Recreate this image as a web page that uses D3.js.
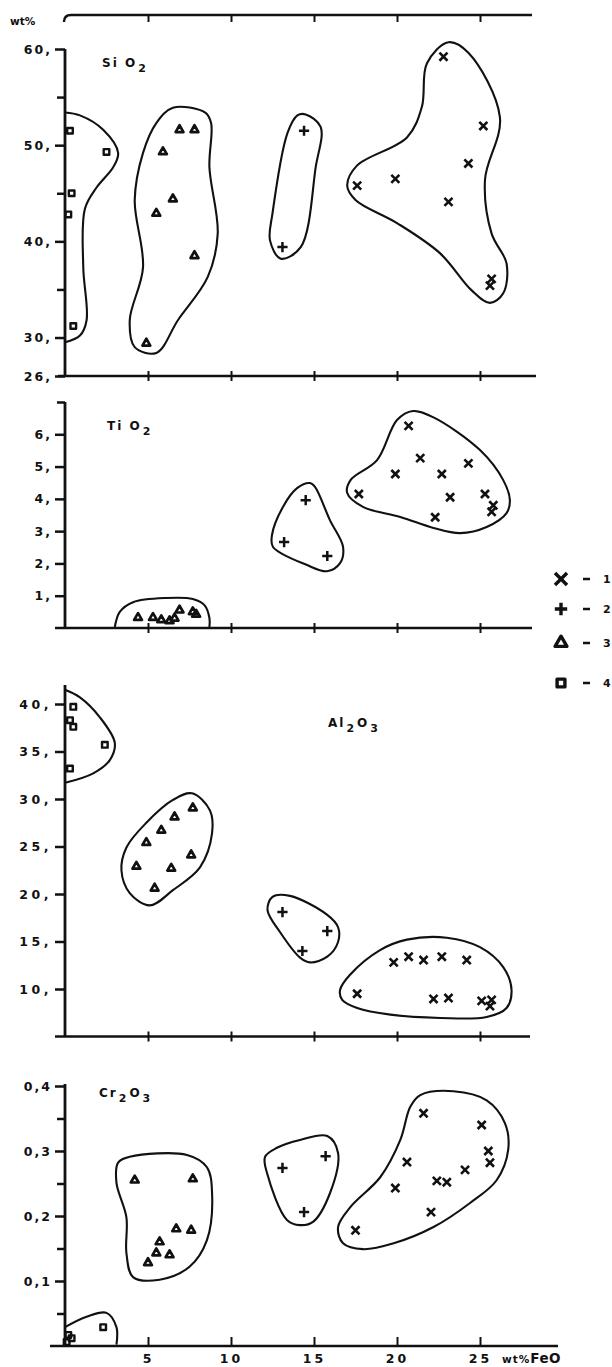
<!DOCTYPE html>
<html>
<head>
<meta charset="utf-8">
<script src="https://cdn.jsdelivr.net/npm/d3@7"></script>
<style>
  body { margin: 0; background: #fff; }
  svg { display: block; font-family: "DejaVu Sans", Arial, sans-serif; font-weight: bold; }
</style>
</head>
<body>
<script>
// points are [wt% FeO, wt% oxide]; group 1 = x, 2 = +, 3 = triangle, 4 = square
var sio2_1 = [[22.8,59.2],[25.2,52.0],[24.3,48.1],[19.9,46.5],[17.6,45.8],[23.1,44.1],[25.7,36.1],[25.6,35.4]];
var sio2_2 = [[14.4,51.5],[13.1,39.4]];
var sio2_3 = [[6.9,51.6],[7.8,51.6],[5.9,49.3],[6.5,44.4],[5.5,42.9],[7.8,38.5],[4.9,29.4]];
var sio2_4 = [[0.3,51.5],[2.5,49.3],[0.4,45.0],[0.2,42.8],[0.5,31.2]];

var tio2_1 = [[20.7,6.26],[21.4,5.26],[24.3,5.1],[19.9,4.77],[22.7,4.77],[17.7,4.15],[23.2,4.05],[25.3,4.15],[25.8,3.8],[25.7,3.6],[22.3,3.43]];
var tio2_2 = [[14.5,3.96],[13.2,2.66],[15.8,2.23]];
var tio2_3 = [[4.4,0.32],[5.3,0.32],[5.8,0.25],[6.3,0.22],[6.6,0.3],[6.9,0.55],[7.7,0.5],[7.9,0.42]];
var tio2_4 = [];

var al2o3_1 = [[19.8,12.8],[20.7,13.4],[21.6,13.05],[22.7,13.4],[24.2,13.05],[17.6,9.5],[22.2,8.95],[23.1,9.05],[25.1,8.75],[25.7,8.85],[25.6,8.2]];
var al2o3_2 = [[13.1,18.1],[15.8,16.1],[14.3,14.0]];
var al2o3_3 = [[7.7,29.05],[6.6,28.1],[5.8,26.7],[4.9,25.4],[7.6,24.1],[4.3,22.9],[6.4,22.7],[5.4,20.6]];
var al2o3_4 = [[0.5,39.7],[0.3,38.3],[0.5,37.6],[2.4,35.7],[0.3,33.2]];

var cr2o3_1 = [[21.6,0.358],[25.1,0.34],[25.5,0.30],[25.6,0.282],[20.6,0.283],[24.1,0.271],[22.4,0.254],[23.0,0.252],[19.9,0.243],[22.05,0.206],[17.5,0.178]];
var cr2o3_2 = [[13.1,0.274],[14.4,0.206],[15.7,0.292]];
var cr2o3_3 = [[4.2,0.255],[7.7,0.257],[6.7,0.18],[7.6,0.178],[5.7,0.16],[5.5,0.143],[6.3,0.14],[5.0,0.128]];
var cr2o3_4 = [[2.3,0.029],[0.2,0.017],[0.4,0.012],[0.1,0.006]];

// hand drawn field outlines, same units as the points
var sio2_field1 = [[23.1,60.7],[24.3,59.6],[26.2,52.9],[25.3,46.4],[25.7,40.8],[26.6,37.7],[26.4,34.6],[25.6,33.6],[24.5,34.9],[22.6,38.75],[20.0,41.9],[17.5,44.3],[17.0,45.8],[17.6,47.9],[20.6,50.8],[21.5,54.0],[21.8,58.5]];
var sio2_field2 = [[14.5,53.2],[15.4,51.9],[15.1,47.7],[14.2,39.4],[13.0,38.2],[12.35,40.1],[12.5,42.9],[13.4,51.25],[14.0,53.1]];
var sio2_field3 = [[6.5,53.9],[8.43,53.4],[8.8,52.3],[8.7,47.7],[9.2,40.8],[8.6,36.3],[6.8,31.8],[5.5,28.4],[4.2,29.0],[3.9,31.8],[4.7,37.3],[4.2,44.3],[4.7,49.2],[5.5,52.3]];
var sio2_field4 = [[0,53.4],[0.9,53.1],[2.3,51.6],[3.2,49.2],[2.9,47.7],[1.9,45.6],[1.2,43.4],[1.1,37.3],[1.3,31.8],[0.9,30.2],[0,29.5]];

var tio2_field1 = [[20.96,6.72],[22.17,6.53],[25.0,5.51],[26.4,4.58],[26.8,3.96],[26.6,3.56],[25.4,3.13],[23.8,2.94],[22.2,3.10],[20.2,3.44],[17.95,3.75],[17.0,4.18],[17.2,4.58],[18.8,5.2],[20.0,6.44]];
var tio2_field2 = [[14.76,4.49],[15.06,4.37],[15.96,3.34],[16.75,2.51],[16.57,2.01],[15.78,1.76],[14.58,1.95],[12.53,2.51],[12.47,2.88],[13.13,3.75],[13.98,4.33]];
var tio2_field3 = [[3.0,0.03],[3.3,0.5],[4.1,0.8],[6.1,0.93],[7.7,0.9],[8.4,0.71],[8.7,0.31],[8.7,0.03]];

var al2o3_field1 = [[16.57,9.9],[17.17,11.5],[18.98,14.1],[20.6,15.2],[23.0,15.4],[25.0,14.4],[26.4,12.3],[26.9,9.9],[26.6,8.0],[25.4,7.05],[22.6,6.95],[19.6,7.3],[17.6,8.0],[16.7,8.85]];
var al2o3_field2 = [[12.5,19.7],[13.55,19.8],[15.8,17.8],[16.45,16.5],[16.45,14.95],[15.8,13.4],[14.76,12.8],[14.16,13.3],[12.95,16.0],[12.2,18.3]];
var al2o3_field3 = [[7.65,30.6],[8.73,28.8],[8.86,26.4],[8.13,22.8],[6.5,20.4],[5.1,18.8],[3.9,20.1],[3.4,22.5],[3.7,24.9],[4.9,27.5],[6.5,29.9]];
var al2o3_field4 = [[0,41.5],[0.9,40.7],[2.1,38.6],[3.0,35.9],[2.7,34.1],[1.7,32.7],[0,31.7]];

var cr2o3_field1 = [[23.4,0.392],[25.4,0.378],[26.5,0.343],[26.7,0.302],[26.0,0.255],[24.4,0.22],[22.2,0.183],[19.8,0.158],[17.95,0.149],[16.75,0.158],[16.45,0.183],[17.2,0.214],[19.0,0.26],[20.2,0.317],[20.8,0.368],[21.4,0.386]];
var cr2o3_field2 = [[14.16,0.317],[15.8,0.323],[16.45,0.297],[15.96,0.235],[14.94,0.191],[14.16,0.186],[13.37,0.194],[12.17,0.266],[12.05,0.291],[12.77,0.305]];
var cr2o3_field3 = [[3.9,0.291],[7.35,0.294],[8.55,0.275],[8.86,0.235],[8.55,0.163],[7.5,0.122],[5.7,0.102],[4.1,0.106],[3.7,0.143],[3.7,0.198],[3.1,0.251],[3.2,0.282]];
var cr2o3_field4 = [[0,0.029],[1.3,0.045],[2.5,0.051],[3.1,0.029],[3.1,0.002]];

var feoTicks = [5, 10, 15, 20, 25];
var legendLabels = ["1", "2", "3", "4"];

var width = 612, height = 1367;
var ink = "#111";

var svg = d3.select("body").append("svg")
    .attr("width", width)
    .attr("height", height);

var x = d3.scaleLinear().domain([0, 25]).range([65, 480]);

var markers = [d3.symbolX, d3.symbolPlus, d3.symbolTriangle2, d3.symbolSquare2];
var markerSize = [44, 36, 44, 40];
var markerStroke = [2.6, 2.5, 2.7, 2.4];

var panels = [
  { title: [["Si O", 0], ["2", 1]], tx: 101, ty: 67,
    y: d3.scaleLinear().domain([26, 60]).range([376, 49]),
    ticks: [26, 30, 40, 50, 60], minor: [35, 45, 55], fmt: function(d) { return d + ","; },
    top: 60, xStart: 58, xEnd: 536, spacing: 2,
    sets: [sio2_1, sio2_2, sio2_3, sio2_4],
    fields: [sio2_field1, sio2_field2, sio2_field3], openField: sio2_field4 },
  { title: [["Ti O", 0], ["2", 1]], tx: 106, ty: 430,
    y: d3.scaleLinear().domain([0, 7]).range([628, 402]),
    ticks: [1, 2, 3, 4, 5, 6], minor: [7], fmt: function(d) { return d + ","; },
    top: 7, xStart: 55, xEnd: 532, spacing: 2,
    sets: [tio2_1, tio2_2, tio2_3, tio2_4],
    fields: [tio2_field1, tio2_field2], openField: tio2_field3 },
  { title: [["Al", 0], ["2", 1], ["O", 0], ["3", 1]], tx: 327, ty: 727,
    y: d3.scaleLinear().domain([5, 42]).range([1036.5, 685]),
    ticks: [10, 15, 20, 25, 30, 35, 40], minor: [], fmt: function(d) { return d + ","; },
    top: 42, xStart: 55, xEnd: 530, spacing: 3.5,
    sets: [al2o3_1, al2o3_2, al2o3_3, al2o3_4],
    fields: [al2o3_field1, al2o3_field2, al2o3_field3], openField: al2o3_field4 },
  { title: [["Cr", 0], ["2", 1], ["O", 0], ["3", 1]], tx: 98, ty: 1097,
    y: d3.scaleLinear().domain([0, 0.4]).range([1346, 1086]),
    ticks: [0.1, 0.2, 0.3, 0.4], minor: [0.05, 0.15, 0.25, 0.35], fmt: function(d) { return String(d).replace(".", ","); },
    top: 0.403, xStart: 50, xEnd: 558, spacing: 2,
    sets: [cr2o3_1, cr2o3_2, cr2o3_3, cr2o3_4],
    fields: [cr2o3_field1, cr2o3_field2, cr2o3_field3], openField: cr2o3_field4 }
];

panels.forEach(function(p, pi) {
  var g = svg.append("g");
  var y = p.y;
  var base = y(y.domain()[0]);

  var closed = d3.line()
      .x(function(d) { return x(d[0]); })
      .y(function(d) { return y(d[1]); })
      .curve(d3.curveCatmullRomClosed.alpha(0.5));
  var open = d3.line()
      .x(function(d) { return x(d[0]); })
      .y(function(d) { return y(d[1]); })
      .curve(d3.curveCatmullRom.alpha(0.5));

  // field outlines
  g.selectAll("path.field")
    .data(p.fields)
    .enter().append("path")
      .attr("class", "field")
      .attr("d", closed)
      .attr("fill", "none")
      .attr("stroke", ink)
      .attr("stroke-width", 2.1);
  g.append("path")
    .attr("d", open(p.openField))
    .attr("fill", "none")
    .attr("stroke", ink)
    .attr("stroke-width", 2.1);

  // y axis
  g.append("line")
    .attr("x1", x(0)).attr("x2", x(0))
    .attr("y1", y(p.top)).attr("y2", base)
    .attr("stroke", ink).attr("stroke-width", 2.8);

  var yAxis = g.append("g")
    .attr("transform", "translate(" + x(0) + ",0)")
    .call(d3.axisLeft(y).tickValues(p.ticks).tickSize(10).tickPadding(3).tickFormat(p.fmt));
  yAxis.select(".domain").remove();
  yAxis.selectAll("line").attr("stroke", ink).attr("stroke-width", 2.5);
  yAxis.selectAll("text")
    .attr("fill", ink)
    .style("font-family", "DejaVu Sans, Arial, sans-serif")
    .style("font-weight", "bold")
    .style("font-size", "12.5px")
    .style("letter-spacing", p.spacing + "px");

  if (p.minor.length) {
    var yMinor = g.append("g")
      .attr("transform", "translate(" + x(0) + ",0)")
      .call(d3.axisLeft(y).tickValues(p.minor).tickSize(8).tickFormat(""));
    yMinor.select(".domain").remove();
    yMinor.selectAll("line").attr("stroke", ink).attr("stroke-width", 2.5);
  }

  // x axis
  g.append("line")
    .attr("x1", p.xStart).attr("x2", p.xEnd)
    .attr("y1", base).attr("y2", base)
    .attr("stroke", ink).attr("stroke-width", 2.6);

  var last = pi === panels.length - 1;
  var xAxis = g.append("g")
    .attr("transform", "translate(0," + base + ")")
    .call(d3.axisBottom(x).tickValues(feoTicks)
      .tickSize(last ? -9 : 5).tickPadding(8)
      .tickFormat(last ? d3.format("d") : ""));
  xAxis.select(".domain").remove();
  xAxis.selectAll("line").attr("stroke", ink).attr("stroke-width", 2);
  if (!last) xAxis.selectAll("line").attr("y1", -5);
  xAxis.selectAll("text")
    .attr("fill", ink)
    .style("font-family", "DejaVu Sans, Arial, sans-serif")
    .style("font-weight", "bold")
    .style("font-size", "12.5px")
    .style("letter-spacing", "3px");

  // points
  p.sets.forEach(function(set, si) {
    g.selectAll("path.m" + si)
      .data(set)
      .enter().append("path")
        .attr("class", "m" + si)
        .attr("transform", function(d) { return "translate(" + x(d[0]) + "," + y(d[1]) + ")"; })
        .attr("d", d3.symbol().type(markers[si]).size(markerSize[si]))
        .attr("fill", "none")
        .attr("stroke", ink)
        .attr("stroke-width", markerStroke[si])
        .attr("stroke-linejoin", "round");
  });

  // oxide label
  var t = g.append("text")
    .attr("x", p.tx).attr("y", p.ty)
    .attr("fill", ink)
    .style("font-size", "12px")
    .style("letter-spacing", "2px");
  p.title.forEach(function(part, i) {
    var prevSub = i > 0 && p.title[i - 1][1];
    t.append("tspan")
      .attr("dy", part[1] && !prevSub ? 5 : (!part[1] && prevSub ? -5 : 0))
      .attr("dx", 1)
      .style("font-size", part[1] ? "11px" : "12px")
      .text(part[0]);
  });
});

// top frame of the first panel
svg.append("path")
  .attr("d", "M" + (x(0) - 1) + ",22 Q" + (x(0) - 1) + ",15 " + (x(0) + 6) + ",15 L532,15")
  .attr("fill", "none")
  .attr("stroke", ink)
  .attr("stroke-width", 2.4);
var topTicks = svg.append("g")
  .attr("transform", "translate(0,15)")
  .call(d3.axisBottom(x).tickValues(feoTicks).tickSize(7).tickFormat(""));
topTicks.select(".domain").remove();
topTicks.selectAll("line").attr("stroke", ink).attr("stroke-width", 2);

svg.append("text")
  .attr("x", 10).attr("y", 25)
  .attr("fill", ink)
  .style("font-size", "10.5px")
  .text("wt%");

svg.append("text")
  .attr("x", 502).attr("y", 1363)
  .attr("fill", ink)
  .style("font-size", "10.5px")
  .style("letter-spacing", "1px")
  .text("wt%")
  .append("tspan")
    .style("font-size", "13.5px")
    .style("letter-spacing", "0.5px")
    .text("FeO");

// legend
var legendY = [579, 609, 643, 683];
var legendSize = [96, 52, 100, 78];
var legend = svg.append("g");
legendLabels.forEach(function(lab, i) {
  legend.append("path")
    .attr("transform", "translate(561," + legendY[i] + ")")
    .attr("d", d3.symbol().type(markers[i]).size(legendSize[i]))
    .attr("fill", "none")
    .attr("stroke", ink)
    .attr("stroke-width", 3.4)
    .attr("stroke-linejoin", "round");
  legend.append("line")
    .attr("x1", 583).attr("x2", 590)
    .attr("y1", legendY[i]).attr("y2", legendY[i])
    .attr("stroke", ink).attr("stroke-width", 2.5);
  legend.append("text")
    .attr("x", 603).attr("y", legendY[i] + 4)
    .attr("fill", ink)
    .style("font-size", "11px")
    .text(lab);
});
</script>
</body>
</html>
